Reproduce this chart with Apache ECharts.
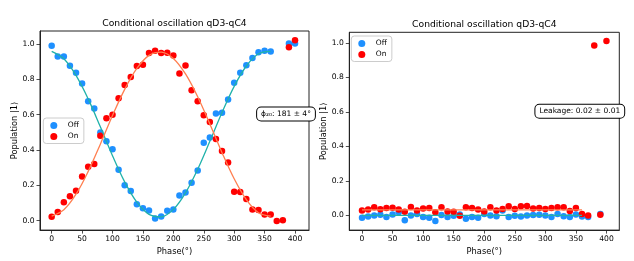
<!DOCTYPE html>
<html><head><meta charset="utf-8">
<script src="https://cdn.jsdelivr.net/npm/echarts@6/dist/echarts.min.js"></script>
<style>html,body{margin:0;padding:0;background:#fff}#c{width:634px;height:261px}</style>
</head><body><div id="c"></div>
<script>
// ---------- data ----------
const titleText = 'Conditional oscillation qD3-qC4';
const xTicks = [0, 50, 100, 150, 200, 250, 300, 350, 400];
const yTicks = [0, 0.2, 0.4, 0.6, 0.8, 1.0];

// Left panel
const phaseOffL = [0,10,20,30,40,50,60,70,80,90,100,110,120,130,140,150,160,170,180,190,200,210,220,230,240,250,260,270,280,290,300,310,320,330,340,350,360,390,400];
const offL = [0.989,0.929,0.929,0.877,0.837,0.776,0.676,0.634,0.499,0.450,0.404,0.288,0.200,0.168,0.093,0.071,0.058,0.013,0.024,0.056,0.063,0.142,0.159,0.215,0.284,0.441,0.471,0.607,0.611,0.686,0.780,0.837,0.880,0.920,0.953,0.962,0.957,1.002,1.003];
const phaseOnL = [0,10,20,30,40,50,60,70,80,90,100,110,120,130,140,150,160,170,180,190,200,210,220,230,240,250,260,270,280,290,300,310,320,330,340,350,360,370,380,390,400];
const onL = [0.022,0.050,0.104,0.138,0.170,0.250,0.305,0.321,0.480,0.579,0.600,0.692,0.768,0.813,0.875,0.882,0.948,0.961,0.948,0.950,0.934,0.832,0.878,0.738,0.676,0.596,0.559,0.462,0.394,0.329,0.164,0.162,0.123,0.063,0.060,0.035,0.035,-0.002,0.002,0.981,1.021];
const phaseFitL = [0,20,40,60,80,100,120,140,160,180,200,220,240,260,280,300,320,340,360];
const offFitL = [0.958,0.916,0.822,0.689,0.531,0.368,0.220,0.105,0.036,0.022,0.064,0.158,0.291,0.449,0.612,0.760,0.875,0.944,0.958];
const onFitL = [0.026,0.062,0.150,0.279,0.433,0.595,0.743,0.861,0.935,0.954,0.918,0.830,0.701,0.547,0.385,0.237,0.119,0.045,0.026];
const labelL = 'ϕ₂₀: 181 ± 4°';

// Right panel
const phaseOffR = [0,10,20,30,40,50,60,70,80,90,100,110,120,130,140,150,160,170,180,190,200,210,220,230,240,250,260,270,280,290,300,310,320,330,340,350,360,370,390];
const offR = [-0.013,-0.006,0.000,0.004,-0.009,0.006,0.019,-0.028,0.000,0.009,-0.009,-0.013,-0.032,0.002,-0.009,-0.002,0.006,-0.019,-0.009,-0.013,0.009,0.000,-0.004,0.028,-0.009,-0.002,-0.006,0.000,0.002,0.004,0.000,-0.009,0.009,-0.004,-0.009,0.006,-0.006,-0.009,0.009];
const phaseOnR = [0,10,20,30,40,50,60,70,80,90,100,110,120,130,140,150,160,170,180,190,200,210,220,230,240,250,260,270,280,290,300,310,320,330,340,350,360,370,380,390,400];
const onR = [0.028,0.034,0.047,0.036,0.043,0.045,0.034,0.021,0.049,0.028,0.040,0.043,0.019,0.047,0.023,0.021,-0.002,0.047,0.043,0.034,0.023,0.047,0.028,0.038,0.053,0.038,0.053,0.055,0.040,0.043,0.038,0.043,0.047,0.047,0.026,0.043,0.009,0.000,0.985,0.004,1.012];
const phaseFitR = [0,360];
const offFitR = [0.000,0.000];
const onFitR = [0.032,0.032];
const labelR = 'Leakage: 0.02 ± 0.01';

// ---------- chart ----------
const FONT = 'DejaVu Sans';
const C_OFF = '#1E90FF', C_ON = '#FF0000', C_OFFFIT = '#20B2AA', C_ONFIT = '#FF7F50';
const zip = (xs, ys) => xs.map((x, i) => [x, ys[i]]);

const grids = [
  {left: 40, top: 31, width: 269, height: 200.7},
  {left: 349.3, top: 32.3, width: 270, height: 201}
];
const xr = [[-19.2, 423], [-20.8, 421]];
const yr = [[-0.053, 1.073], [-0.085, 1.062]];

function xAxis(i) {
  return {
    gridIndex: i, type: 'value', min: xr[i][0], max: xr[i][1],
    name: 'Phase(°)', nameLocation: 'middle', nameGap: 14,
    nameTextStyle: {fontFamily: FONT, fontSize: 8.3, color: '#000'},
    axisLine: {show: true, onZero: false, lineStyle: {color: '#222', width: 1}},
    axisTick: {show: true, customValues: xTicks, length: 3.5, lineStyle: {color: '#222', width: 0.8}},
    axisLabel: {customValues: xTicks, fontFamily: FONT, fontSize: 7.6, color: '#000', margin: 5},
    splitLine: {show: false}
  };
}
function yAxis(i) {
  return {
    gridIndex: i, type: 'value', min: yr[i][0], max: yr[i][1],
    name: 'Population |1⟩', nameLocation: 'middle', nameGap: 21,
    nameTextStyle: {fontFamily: FONT, fontSize: 8.3, color: '#000'},
    axisLine: {show: true, onZero: false, lineStyle: {color: '#222', width: 1}},
    axisTick: {show: true, customValues: yTicks, length: 3.5, lineStyle: {color: '#222', width: 0.8}},
    axisLabel: {customValues: yTicks, fontFamily: FONT, fontSize: 7.6, color: '#000', margin: 5.5,
      formatter: v => v.toFixed(1)},
    splitLine: {show: false}
  };
}
function scatter(name, i, xs, ys, color) {
  return {name, type: 'scatter', xAxisIndex: i, yAxisIndex: i, data: zip(xs, ys),
    symbolSize: 6.5, itemStyle: {color, opacity: 1}, z: 3};
}
function fit(name, i, xs, ys, color) {
  return {name, type: 'line', xAxisIndex: i, yAxisIndex: i, data: zip(xs, ys),
    showSymbol: false, smooth: 0.35, silent: true,
    lineStyle: {color, width: 1.3}, itemStyle: {color}, z: 4};
}
function legend(left, top) {
  return {
    data: ['Off', 'On'], left, top, orient: 'vertical', icon: 'circle',
    itemWidth: 7, itemHeight: 7, itemGap: 3, padding: [3.5, 5, 3, 7],
    borderColor: '#ccc', borderWidth: 1, borderRadius: 3,
    backgroundColor: 'rgba(255,255,255,0.85)',
    textStyle: {fontFamily: FONT, fontSize: 7.5, lineHeight: 8, color: '#000', padding: [0, 0, 0, 5.5]},
    z: 10
  };
}
function annot(x, y, text) {
  return {type: 'text', x, y, z: 20,
    style: {text, fontFamily: FONT, fontSize: 7.5, fill: '#000', align: 'center', verticalAlign: 'middle',
      backgroundColor: '#fff', borderColor: '#000', borderWidth: 1, borderRadius: 4, padding: [3, 4, 2, 4]}};
}
function title(cx, top) {
  return {text: titleText, left: cx, top, textAlign: 'center', padding: 0,
    textStyle: {fontFamily: FONT, fontSize: 9.2, fontWeight: 'normal', color: '#000', lineHeight: 11}};
}

const chart = echarts.init(document.getElementById('c'), null, {renderer: 'canvas'});
chart.setOption({
  animation: false,
  backgroundColor: '#fff',
  title: [title(174.5, 18.2), title(484.3, 19)],
  grid: grids.map(g => Object.assign({show: true, borderColor: '#222', borderWidth: 1, backgroundColor: 'transparent'}, g)),
  xAxis: [xAxis(0), xAxis(1)],
  yAxis: [yAxis(0), yAxis(1)],
  legend: [legend(43.3, 118), legend(351.3, 36)],
  series: [
    scatter('Off', 0, phaseOffL, offL, C_OFF),
    scatter('On', 0, phaseOnL, onL, C_ON),
    fit('Off fit', 0, phaseFitL, offFitL, C_OFFFIT),
    fit('On fit', 0, phaseFitL, onFitL, C_ONFIT),
    scatter('Off', 1, phaseOffR, offR, C_OFF),
    scatter('On', 1, phaseOnR, onR, C_ON),
    fit('Off fit', 1, phaseFitR, offFitR, C_OFFFIT),
    fit('On fit', 1, phaseFitR, onFitR, C_ONFIT)
  ],
  graphic: [annot(286, 114, labelL), annot(579.8, 111.3, labelR)]
});
</script></body></html>
